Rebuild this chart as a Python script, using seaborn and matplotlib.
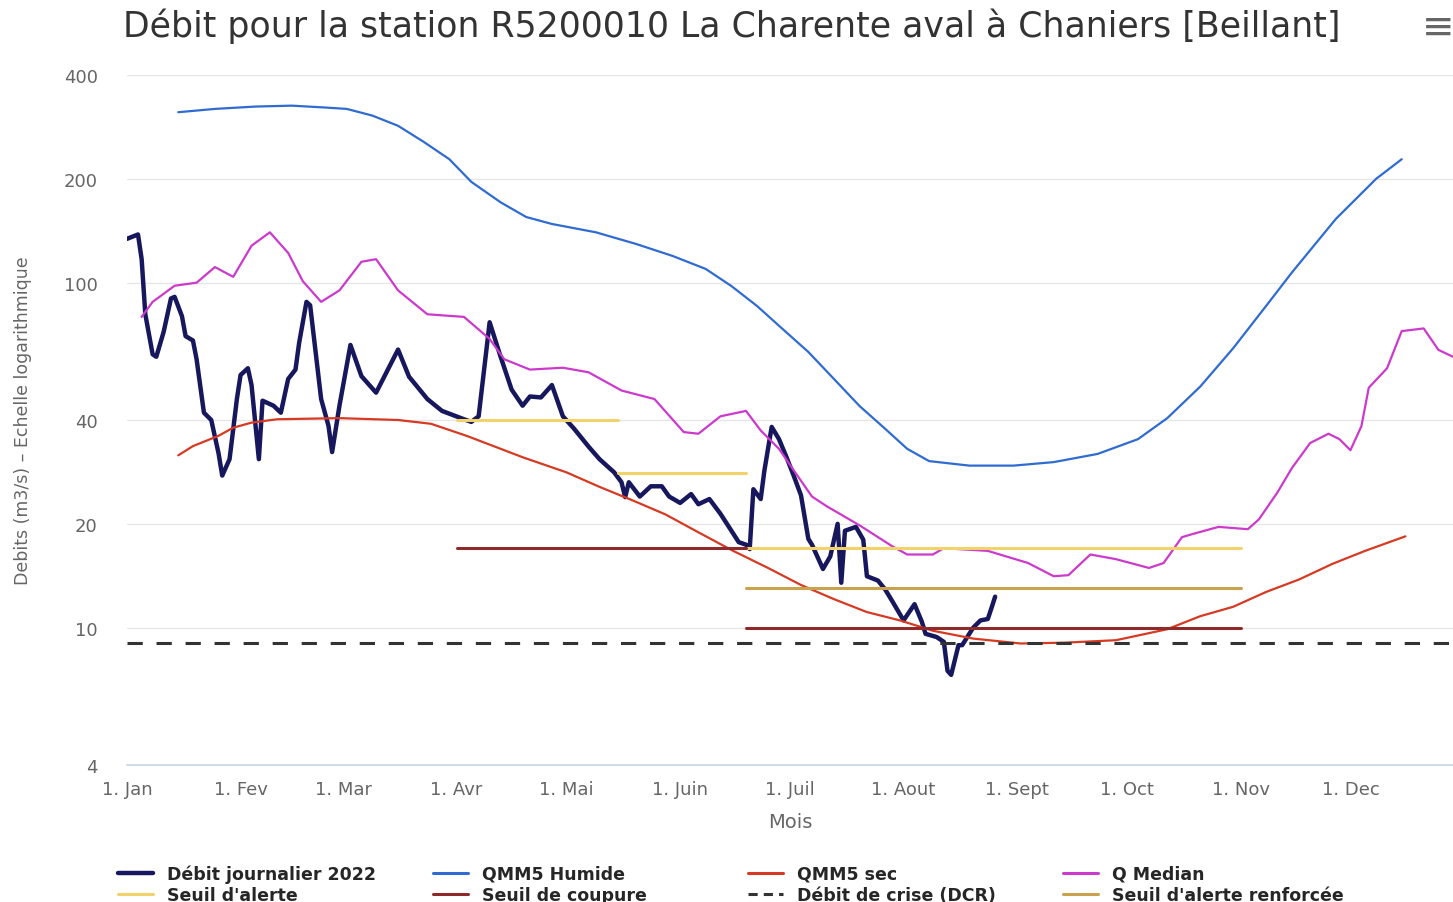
import pandas as pd
import numpy as np
import matplotlib.pyplot as plt
import seaborn as sns
from matplotlib.lines import Line2D

sns.set_theme(style="white")
plt.rcParams['font.family'] = ['DejaVu Sans']

# ---- données ----
dates_debit = ["2022-01-01", "2022-01-04", "2022-01-05", "2022-01-06", "2022-01-08", "2022-01-09",
               "2022-01-11", "2022-01-13", "2022-01-14", "2022-01-16", "2022-01-17", "2022-01-19",
               "2022-01-20", "2022-01-22", "2022-01-24", "2022-01-26", "2022-01-27", "2022-01-29",
               "2022-01-31", "2022-02-01", "2022-02-03", "2022-02-04", "2022-02-06", "2022-02-07",
               "2022-02-10", "2022-02-12", "2022-02-14", "2022-02-16", "2022-02-17", "2022-02-19",
               "2022-02-20", "2022-02-23", "2022-02-25", "2022-02-26", "2022-02-28", "2022-03-03",
               "2022-03-06", "2022-03-10", "2022-03-16", "2022-03-19", "2022-03-24", "2022-03-28",
               "2022-04-03", "2022-04-05", "2022-04-07", "2022-04-10", "2022-04-13", "2022-04-16",
               "2022-04-19", "2022-04-21", "2022-04-24", "2022-04-27", "2022-04-30", "2022-05-03",
               "2022-05-07", "2022-05-10", "2022-05-14", "2022-05-16", "2022-05-17", "2022-05-18",
               "2022-05-21", "2022-05-24", "2022-05-27", "2022-05-29", "2022-06-01", "2022-06-04",
               "2022-06-06", "2022-06-09", "2022-06-12", "2022-06-15", "2022-06-17", "2022-06-19",
               "2022-06-20", "2022-06-21", "2022-06-23", "2022-06-24", "2022-06-26", "2022-06-28",
               "2022-06-30", "2022-07-02", "2022-07-04", "2022-07-06", "2022-07-07", "2022-07-10",
               "2022-07-12", "2022-07-14", "2022-07-15", "2022-07-16", "2022-07-19", "2022-07-21",
               "2022-07-22", "2022-07-25", "2022-07-27", "2022-07-29", "2022-08-01", "2022-08-04",
               "2022-08-06", "2022-08-07", "2022-08-10", "2022-08-12", "2022-08-13", "2022-08-14",
               "2022-08-16", "2022-08-17", "2022-08-20", "2022-08-22", "2022-08-24", "2022-08-25",
               "2022-08-26"]
debit_2022 = [134, 138, 117, 81, 62, 61,
              72, 90, 91, 80, 70, 68,
              60, 42, 40, 32, 27.6, 30.8,
              46, 54, 56.5, 50.5, 30.8, 45.5,
              44, 42, 52.6, 56, 67, 88,
              86, 46, 38.5, 32.3, 44, 66,
              53.6, 48, 64, 53.4, 46, 42.5,
              40.2, 39.5, 41, 76.8, 61, 49,
              44, 46.8, 46.5, 50.5, 41, 37.8,
              33.5, 30.8, 28.2, 26.4, 23.9, 26.4,
              24, 25.7, 25.7, 24, 23, 24.4,
              22.8, 23.6, 21.4, 19.1, 17.7, 17.4,
              16.9, 25.2, 23.6, 28.5, 38.2, 35.2,
              31.3, 27.6, 24.2, 18.1, 17.4, 14.8,
              16.1, 20, 13.5, 19.1, 19.6, 18,
              14.1, 13.7, 12.9, 11.9, 10.5, 11.7,
              10.4, 9.6, 9.4, 9.1, 7.5, 7.3,
              8.9, 8.9, 10, 10.5, 10.6, 11.4,
              12.3]

dates_humide = ["2022-01-15", "2022-01-25", "2022-02-05", "2022-02-15", "2022-02-24", "2022-03-02",
                "2022-03-09", "2022-03-16", "2022-03-23", "2022-03-30", "2022-04-05", "2022-04-13",
                "2022-04-20", "2022-04-27", "2022-05-09", "2022-05-20", "2022-05-30", "2022-06-08",
                "2022-06-15", "2022-06-22", "2022-06-29", "2022-07-06", "2022-07-13", "2022-07-20",
                "2022-07-27", "2022-08-02", "2022-08-08", "2022-08-19", "2022-08-31", "2022-09-11",
                "2022-09-23", "2022-10-04", "2022-10-12", "2022-10-21", "2022-10-30", "2022-11-08",
                "2022-11-15", "2022-11-27", "2022-12-08", "2022-12-15"]
qmm5_humide = [312, 319, 324, 326, 322, 319,
               305, 285, 256, 228, 196, 171,
               155, 148, 140, 129.5, 119.5, 109.6,
               97.8, 85.6, 73.4, 63, 52.6, 43.9,
               37.7, 33, 30.4, 29.5, 29.5, 30.2,
               31.9, 35.2, 40.5, 50, 64.6, 85.7,
               107, 153, 200, 228]

dates_sec = ["2022-01-15", "2022-01-19", "2022-01-26", "2022-01-30", "2022-02-04", "2022-02-11",
             "2022-02-28", "2022-03-16", "2022-03-25", "2022-04-04", "2022-04-19", "2022-05-01",
             "2022-05-10", "2022-05-19", "2022-05-28", "2022-06-06", "2022-06-15", "2022-06-25",
             "2022-07-04", "2022-07-13", "2022-07-22", "2022-07-31", "2022-08-09", "2022-08-20",
             "2022-09-02", "2022-09-14", "2022-09-28", "2022-10-12", "2022-10-21", "2022-10-30",
             "2022-11-08", "2022-11-17", "2022-11-26", "2022-12-05", "2022-12-16"]
qmm5_sec = [31.6, 33.6, 36, 38, 39.3, 40.2,
            40.5, 40, 39, 35.9, 31.2, 28.2,
            25.6, 23.4, 21.3, 18.9, 16.8, 14.9,
            13.3, 12.1, 11.1, 10.5, 9.8, 9.3,
            9.0, 9.05, 9.2, 9.9, 10.8, 11.5,
            12.7, 13.8, 15.3, 16.7, 18.4]

dates_median = ["2022-01-05", "2022-01-08", "2022-01-14", "2022-01-20", "2022-01-25", "2022-01-30",
                "2022-02-04", "2022-02-09", "2022-02-14", "2022-02-18", "2022-02-23", "2022-02-28",
                "2022-03-06", "2022-03-10", "2022-03-16", "2022-03-24", "2022-04-03", "2022-04-10",
                "2022-04-14", "2022-04-21", "2022-04-30", "2022-05-07", "2022-05-16", "2022-05-25",
                "2022-06-02", "2022-06-06", "2022-06-12", "2022-06-19", "2022-06-23", "2022-06-28",
                "2022-07-02", "2022-07-07", "2022-07-11", "2022-07-20", "2022-07-29", "2022-08-02",
                "2022-08-09", "2022-08-12", "2022-08-24", "2022-09-04", "2022-09-11", "2022-09-15",
                "2022-09-21", "2022-09-28", "2022-10-07", "2022-10-11", "2022-10-16", "2022-10-19",
                "2022-10-26", "2022-11-03", "2022-11-06", "2022-11-11", "2022-11-15", "2022-11-20",
                "2022-11-25", "2022-11-28", "2022-12-01", "2022-12-04", "2022-12-06", "2022-12-11",
                "2022-12-15", "2022-12-21", "2022-12-25", "2022-12-29"]
q_median = [79.6, 88, 98, 100, 111, 104,
            128, 140, 122, 101, 88, 95,
            115, 117, 95, 81, 79.6, 68.7,
            60, 56, 56.7, 55, 48.7, 46,
            36.9, 36.5, 41, 42.5, 37.3, 33,
            28.6, 24, 22.5, 19.8, 17.2, 16.3,
            16.3, 17.0, 16.7, 15.4, 14.1, 14.2,
            16.3, 15.8, 14.9, 15.4, 18.3, 18.7,
            19.6, 19.3, 20.6, 24.6, 29.0, 34.3,
            36.5, 35.2, 32.7, 38.4, 49.6, 56.5,
            72.4, 73.7, 63.9, 61]

# seuils (début, fin, valeur)
alerte_debut = ["2022-04-01", "2022-05-15", "2022-06-19"]
alerte_fin = ["2022-05-15", "2022-06-19", "2022-11-01"]
alerte_val = [40, 28, 17]
coupure_debut = ["2022-04-01", "2022-06-19"]
coupure_fin = ["2022-06-19", "2022-11-01"]
coupure_val = [17, 10]
renforcee_debut = ["2022-06-19"]
renforcee_fin = ["2022-11-01"]
renforcee_val = [13]
dcr = 9.0

mois_labels = ["1. Jan", "1. Fev", "1. Mar", "1. Avr", "1. Mai", "1. Juin",
               "1. Juil", "1. Aout", "1. Sept", "1. Oct", "1. Nov", "1. Dec"]
y_ticks = [4, 10, 20, 40, 100, 200, 400]

# couleurs
c_debit = "#17175e"
c_humide = "#2f6bd1"
c_sec = "#d63a22"
c_median = "#cc3acc"
c_alerte = "#f2d36b"
c_coupure = "#8e2a2a"
c_dcr = "#333333"
c_renf = "#c9a24e"

W, H = 1453, 903
fig = plt.figure(figsize=(W / 100, H / 100), dpi=100)
ax = fig.add_axes([127 / W, 1 - 766 / H, 1 - 127 / W, (766 - 76) / H])

df_debit = pd.DataFrame({"date": pd.to_datetime(dates_debit), "q": debit_2022})
df_humide = pd.DataFrame({"date": pd.to_datetime(dates_humide), "q": qmm5_humide})
df_sec = pd.DataFrame({"date": pd.to_datetime(dates_sec), "q": qmm5_sec})
df_median = pd.DataFrame({"date": pd.to_datetime(dates_median), "q": q_median})

sns.lineplot(data=df_debit, x="date", y="q", ax=ax, color=c_debit, lw=3.2, zorder=3)
sns.lineplot(data=df_humide, x="date", y="q", ax=ax, color=c_humide, lw=1.6, zorder=4)
sns.lineplot(data=df_sec, x="date", y="q", ax=ax, color=c_sec, lw=1.6, zorder=4)
sns.lineplot(data=df_median, x="date", y="q", ax=ax, color=c_median, lw=1.6, zorder=4)

for d0, d1, v in zip(alerte_debut, alerte_fin, alerte_val):
    ax.plot(pd.to_datetime([d0, d1]), [v, v], color=c_alerte, lw=2.2, zorder=5)
for d0, d1, v in zip(coupure_debut, coupure_fin, coupure_val):
    ax.plot(pd.to_datetime([d0, d1]), [v, v], color=c_coupure, lw=2.2, zorder=5)
ax.axhline(dcr, color=c_dcr, lw=2.2, dashes=(5, 4.5), zorder=5)
for d0, d1, v in zip(renforcee_debut, renforcee_fin, renforcee_val):
    ax.plot(pd.to_datetime([d0, d1]), [v, v], color=c_renf, lw=2.2, zorder=5)

# axes
ax.set_yscale("log")
ax.set_ylim(4, 400)
ax.set_yticks(y_ticks)
ax.set_yticklabels([str(t) for t in y_ticks])
ax.yaxis.set_minor_locator(plt.NullLocator())
ax.set_xlim(pd.Timestamp("2022-01-01"), pd.Timestamp("2022-12-29"))
mois = pd.date_range("2022-01-01", periods=12, freq="MS")
ax.set_xticks(mois)
ax.set_xticklabels(mois_labels)

ax.grid(axis="y", color="#e6e6e6", lw=1)
ax.grid(axis="x", visible=False)
for s in ["left", "right", "top"]:
    ax.spines[s].set_visible(False)
ax.spines["bottom"].set_color("#ccd6eb")
ax.tick_params(axis="x", colors="#666666", labelsize=13, length=7, width=1, direction="out", pad=4)
ax.tick_params(axis="x", color="#ccd6eb")
ax.tick_params(axis="y", colors="#666666", labelsize=13, length=0, pad=21)

ax.set_xlabel("Mois", fontsize=14, color="#666666", labelpad=10)
ax.set_ylabel("Debits (m3/s) \u2013 Echelle logarithmique", fontsize=12.5, color="#666666")
ax.yaxis.set_label_coords(-0.072, 0.5)

fig.text(123 / W, 1 - 26 / H, "Débit pour la station R5200010 La Charente aval à Chaniers [Beillant]",
         fontsize=25, color="#333333", ha="left", va="center")
fig.text(1438 / W, 1 - 28 / H, "\u2261", fontsize=28, color="#666666", ha="center", va="center")

# légende en 4 colonnes
handles = [
    (Line2D([], [], color=c_debit, lw=3.2), "Débit journalier 2022"),
    (Line2D([], [], color=c_alerte, lw=2.2), "Seuil d'alerte"),
    (Line2D([], [], color=c_humide, lw=2.2), "QMM5 Humide"),
    (Line2D([], [], color=c_coupure, lw=2.2), "Seuil de coupure"),
    (Line2D([], [], color=c_sec, lw=2.2), "QMM5 sec"),
    (Line2D([], [], color=c_dcr, lw=2.2, dashes=(3, 2)), "Débit de crise (DCR)"),
    (Line2D([], [], color=c_median, lw=2.2), "Q Median"),
    (Line2D([], [], color=c_renf, lw=2.2), "Seuil d'alerte renforcée"),
]
col_x = [118, 433, 748, 1063]
for i, x in enumerate(col_x):
    hs = [handles[2 * i][0], handles[2 * i + 1][0]]
    ls = [handles[2 * i][1], handles[2 * i + 1][1]]
    fig.legend(hs, ls, loc="upper left", bbox_to_anchor=(x / W, 1 - 866 / H),
               frameon=False, handlelength=2.0, handletextpad=0.8, labelspacing=0.15,
               borderpad=0, borderaxespad=0,
               prop={"family": ["Liberation Sans Narrow", "DejaVu Sans"], "weight": "bold", "size": 12.5})

fig.savefig("out.png", dpi=100, facecolor="white")
